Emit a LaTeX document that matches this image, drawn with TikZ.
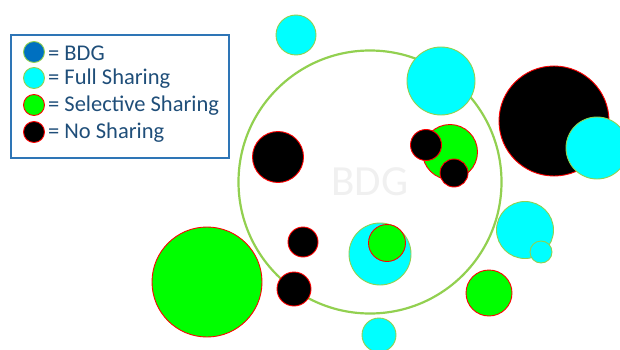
\documentclass[tikz,border=0pt]{standalone}
\usepackage{fontspec}
\setmainfont{Carlito}
\usetikzlibrary{positioning}

\definecolor{ringgreen}{HTML}{92D050}
\definecolor{fullcyan}{HTML}{00FFFF}
\definecolor{selgreen}{HTML}{00FF00}
\definecolor{bdgblue}{HTML}{0070C0}
\definecolor{legblue}{HTML}{2E75B6}
\definecolor{legtext}{HTML}{1F4E79}

\tikzset{
  blob/.style={circle, inner sep=0pt, line width=0.9pt},
  fullshare/.style={blob, draw=ringgreen, fill=fullcyan},
  selshare/.style={blob, draw=red, fill=selgreen},
  noshare/.style={blob, draw=red, fill=black},
  bdgshare/.style={blob, draw=ringgreen, fill=bdgblue},
  legitem/.style={font=\fontsize{22.5}{24}\selectfont, text=legtext, inner sep=0pt, anchor=west, yshift=-1pt}
}

\begin{document}
\begin{tikzpicture}[x=1pt,y=-1pt]
\useasboundingbox (0,0) rectangle (620,350);

% BDG ring
\node[circle, draw=ringgreen, line width=2.2pt, minimum size=263pt, inner sep=0pt] (bdg) at (370,182) {};
\node[font=\fontsize{43}{45}\selectfont, text=black!6] (bdglabel) at (bdg.center) {BDG};

% Full sharing
\node[fullshare, minimum size=40pt] (cyantop) at (296,35) {};
\node[fullshare, minimum size=68pt] (cyanring) at (441,81) {};
\node[noshare, minimum size=110pt] (blackbig) at (554,121) {};
\node[fullshare, minimum size=62pt] (cyanedge) at (597,148) {};
\node[fullshare, minimum size=57pt] (cyanright) at (525,230) {};
\node[fullshare, minimum size=22pt] (cyansmall) at (541,252) {};
\node[fullshare, minimum size=62pt] (cyanmid) at (380,254) {};
\node[fullshare, minimum size=34pt] (cyanbottom) at (379,335) {};

% Selective sharing
\node[selshare, minimum size=55pt] (greenring) at (450,152) {};
\node[selshare, minimum size=110pt] (greenbig) at (207,282) {};
\node[selshare, minimum size=37pt] (greenmid) at (387,243) {};
\node[selshare, minimum size=46pt] (greenlow) at (489,293) {};

% No sharing
\node[noshare, minimum size=51pt] (blackleft) at (278,157) {};
\node[noshare, minimum size=31pt] (blacktop) at (426,145) {};
\node[noshare, minimum size=28pt] (blacklow) at (454,173) {};
\node[noshare, minimum size=30pt] (blacksmall) at (303,242) {};
\node[noshare, minimum size=34pt] (blackedge) at (294,289) {};

% Legend
\node[draw=legblue, line width=1.8pt, minimum width=218pt, minimum height=123pt, inner sep=0pt] (legend) at (120,96.5) {};
\node[bdgshare, minimum size=21pt] (lbdg) at (34,52) {};
\node[fullshare, minimum size=21pt] (lfull) at (34,78) {};
\node[selshare, minimum size=21pt] (lsel) at (34,105) {};
\node[noshare, minimum size=21pt] (lno) at (34,132) {};
\node[legitem, right=3pt of lbdg] (tbdg) {= BDG};
\node[legitem, right=3pt of lfull] (tfull) {= Full Sharing};
\node[legitem, right=3pt of lsel] (tsel) {= Selective Sharing};
\node[legitem, right=3pt of lno] (tno) {= No Sharing};

\end{tikzpicture}
\end{document}
